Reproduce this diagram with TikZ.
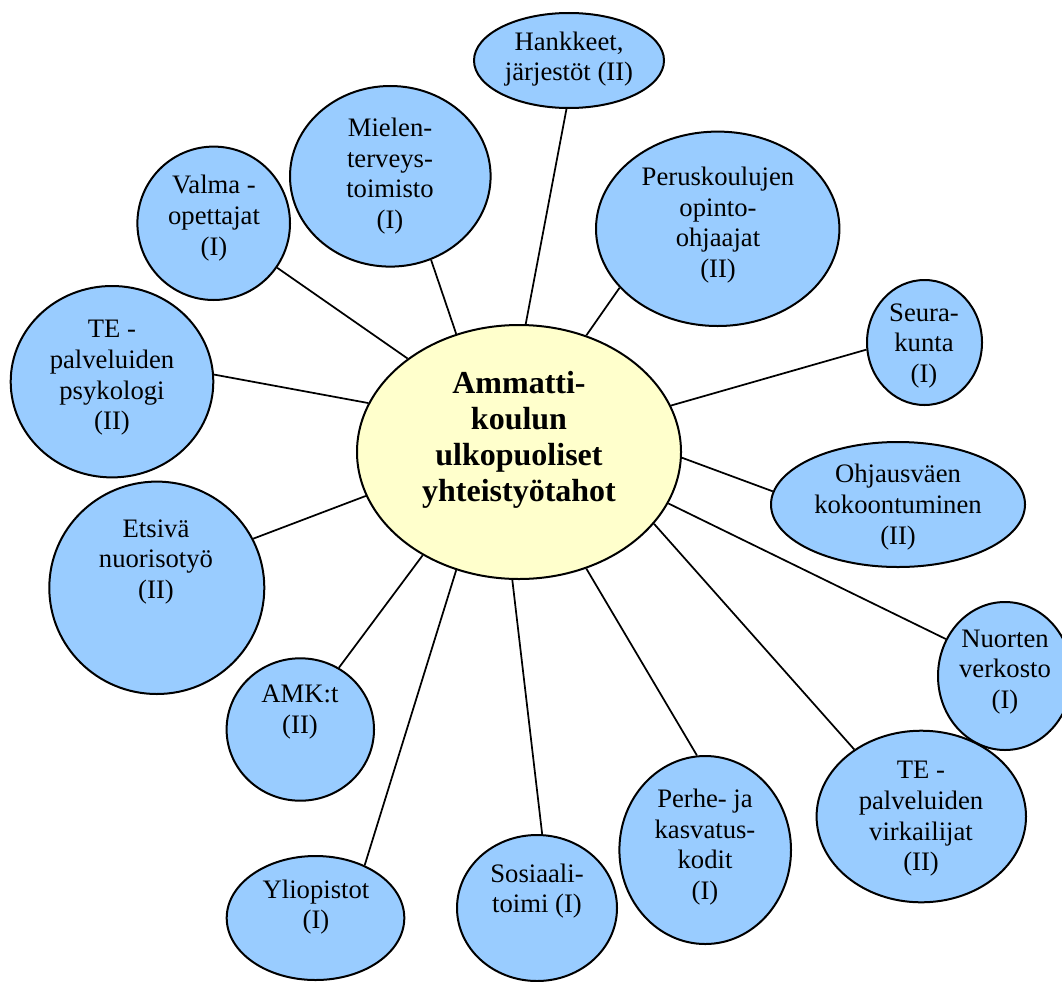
\documentclass[tikz,border=0pt]{standalone}
\usepackage{fontspec}
\setmainfont{Liberation Serif}
\usetikzlibrary{shapes.geometric}
\definecolor{bubblue}{HTML}{99CCFF}
\definecolor{bubyellow}{HTML}{FFFFCC}
\pgfdeclarelayer{background}
\pgfsetlayers{background,main}
\begin{document}
\begin{tikzpicture}[x=0.75pt,y=-0.75pt,
  bub/.style 2 args={ellipse, draw=black, line width=1.5pt, fill=bubblue,
    minimum width=#1*1.5pt, minimum height=#2*1.5pt, inner sep=0pt},
  cbub/.style={ellipse, draw=black, line width=1.5pt, fill=bubyellow,
    minimum width=243pt, minimum height=190.5pt, inner sep=0pt},
  txt/.style={align=center, inner sep=0pt, font=\fontsize{20}{23}\selectfont},
  ctxt/.style={align=center, inner sep=0pt, font=\fontsize{24}{27}\selectfont\bfseries},
  conn/.style={draw=black, line width=1.3pt}]
\useasboundingbox (0,0) rectangle (1062,981);

\node[cbub] (c) at (519,452) {};
\node[ctxt] (cT) at (519,440) {Ammatti-\\koulun\\ulkopuoliset\\yhteistyötahot};

\node[bub={95}{47.5}] (hank) at (569,60.5) {};
\node[txt] (hankT) at (569,59) {Hankkeet,\\järjestöt (II)};

\node[bub={100.3}{90.3}] (miel) at (390.3,176.3) {};
\node[txt] (mielT) at (390,176) {Mielen-\\terveys-\\toimisto\\(I)};

\node[bub={76.3}{76.7}] (valma) at (213.7,223.3) {};
\node[txt] (valmaT) at (214,218) {Valma -\\opettajat\\(I)};

\node[bub={101.3}{95.7}] (tep) at (112,381.7) {};
\node[txt] (tepT) at (112,378) {TE -\\palveluiden\\psykologi\\(II)};

\node[bub={121.7}{97.2}] (perus) at (717.7,228.8) {};
\node[txt] (perusT) at (718,225) {Peruskoulujen\\opinto-\\ohjaajat\\(II)};

\node[bub={57.5}{62.5}] (seura) at (924.5,342.5) {};
\node[txt] (seuraT) at (924,346) {Seura-\\kunta\\(I)};

\node[bub={127}{62.5}] (ohj) at (898,504.5) {};
\node[txt] (ohjT) at (898,507) {Ohjausväen\\kokoontuminen\\(II)};

\node[bub={107.5}{106.2}] (ets) at (156.8,587.8) {};
\node[txt] (etsT) at (156,562) {Etsivä\\nuorisotyö\\(II)};

\node[bub={73.7}{71.2}] (amk) at (300.3,729.5) {};
\node[txt] (amkT) at (300,712) {AMK:t\\(II)};

\node[bub={88.8}{62}] (yli) at (315.5,918) {};
\node[txt] (yliT) at (316,907) {Yliopistot\\(I)};

\node[bub={80}{73}] (sos) at (537,908) {};
\node[txt] (sosT) at (537,891) {Sosiaali-\\toimi (I)};

\node[bub={85.8}{94}] (perhe) at (705.2,850) {};
\node[txt] (perheT) at (705,847) {Perhe- ja\\kasvatus-\\kodit\\(I)};

\node[bub={67}{74}] (nuo) at (1005,676) {};
\node[txt] (nuoT) at (1005,672) {Nuorten\\verkosto\\(I)};

\node[bub={104.7}{85.8}] (tev) at (921.3,816.5) {};
\node[txt] (tevT) at (921,819) {TE -\\palveluiden\\virkailijat\\(II)};

\begin{pgfonlayer}{background}
\draw[conn] (c.140) -- (valma.-35.8);
\draw[conn] (c.118.1) -- (miel.-64.7);
\draw[conn] (c.87.7) -- (hank.-93.5);
\draw[conn] (c.60.5) -- (perus.-149.5);
\draw[conn] (c.17.6) -- (seura.-173.4);
\draw[conn] (c.-2.8) -- (ohj.174.8);
\draw[conn] (c.-19.3) -- (nuo.148.3);
\draw[conn] (c.-28.6) -- (tev.135.2);
\draw[conn] (c.-60.7) -- (perhe.95.2);
\draw[conn] (c.-93.2) -- (sos.86.8);
\draw[conn] (c.-118.1) -- (yli.47);
\draw[conn] (c.-133.3) -- (amk.58.5);
\draw[conn] (c.-164.2) -- (ets.27.6);
\draw[conn] (c.162.5) -- (tep.4.4);
\end{pgfonlayer}
\end{tikzpicture}
\end{document}
